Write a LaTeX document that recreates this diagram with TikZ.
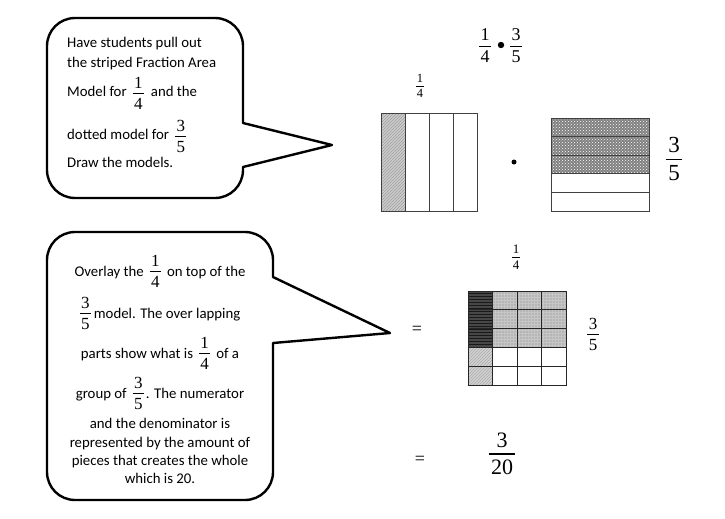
\documentclass[tikz,border=0pt]{standalone}
\usepackage{fontspec}
\setmainfont{Carlito}
\newfontfamily\tms{Liberation Serif}
\usetikzlibrary{patterns}
\newcommand\frc[3]{{\fontsize{#1}{#1}\selectfont\tms$\vcenter{\offinterlineskip\halign{\hfil\kern.08em##\kern.08em\hfil\cr #2\cr\noalign{\kern.26em\hrule height .05em\kern.26em}#3\cr}}$}}
\newcommand\ifr[2]{\kern6pt\raisebox{-2pt}{\frc{17}{#1}{#2}}\kern7pt}
\newcommand\jfr[2]{\kern6pt\frc{17}{#1}{#2}\kern6pt}
\begin{document}
\begin{tikzpicture}[x=1pt,y=-1pt,
  callout/.style={line width=2.4pt, line join=round},
  txt/.style={anchor=base west, inner sep=0pt, font=\fontsize{14.8}{17}\selectfont},
  ctxt/.style={anchor=base, inner sep=0pt, font=\fontsize{14.8}{17}\selectfont},
  fracnode/.style={inner sep=0pt},
  box/.style={draw=black!75, line width=0.8pt},
  gridln/.style={draw=black!85, line width=0.8pt}]
\useasboundingbox (0,0) rectangle (725,519);

% ---------- top callout ----------
\draw[callout] (243,123) [rounded corners=28pt] -- (243,18) -- (47,18) -- (47,198) -- (243,198) [sharp corners] -- (243,167) -- (332,145) -- cycle;
\node[txt] (t1) at (67,48) {Have students pull out};
\node[txt] (t2) at (67,67) {the striped Fraction Area};
\node[txt] (t3) at (67,96) {Model for\ifr{1}{4}and the};
\node[txt] (t4) at (67,139) {dotted model for\ifr{3}{5}};
\node[txt] (t5) at (67,167) {Draw the models.};

% ---------- top formula ----------
\node[fracnode] (fa) at (485,46) {\frc{18}{1}{4}};
\node[fracnode] (fb) at (516,46) {\frc{18}{3}{5}};
\fill (501,45) circle (3.2pt);

% ---------- left model (1/4 striped) ----------
\node[fracnode] (fq) at (420,86) {\frc{12.5}{1}{4}};
\fill[gray!40] (381,113) rectangle (405,211);
\fill[pattern=north east lines, pattern color=gray!75] (381,113) rectangle (405,211);
\draw[box] (381,113) rectangle (477,211);
\foreach \x in {405,429,453} \draw[box] (\x,113) -- (\x,211);

\fill (514,162) circle (2.5pt);

% ---------- right model (3/5 dotted) ----------
\fill[black!50] (551,118) rectangle (649,173.8);
\fill[pattern=crosshatch dots, pattern color=white] (551,118) rectangle (649,173.8);
\draw[box] (551,118) rectangle (649,211);
\foreach \y in {136.6,155.2,173.8,192.4} \draw[box] (551,\y) -- (649,\y);
\node[fracnode] (ft) at (674,159) {\frc{23}{3}{5}};

% ---------- bottom callout ----------
\draw[callout] (273,277) [rounded corners=28pt] -- (273,232) -- (47,232) -- (47,500) -- (273,500) [sharp corners] -- (273,343) -- (390,333) -- cycle;
\node[ctxt] (b1) at (160,276) {Overlay the\jfr{1}{4}on top of the};
\node[ctxt] (b2) at (160,318) {\frc{17}{3}{5}\kern3pt model. The over lapping};
\node[ctxt] (b3) at (160,358) {parts show what is\jfr{1}{4}of a};
\node[ctxt] (b4) at (160,398) {group of\jfr{3}{5}\kern-4pt. The numerator};
\node[ctxt] (b5) at (160,428) {and the denominator is};
\node[ctxt] (b6) at (160,447) {represented by the amount of};
\node[ctxt] (b7) at (160,465) {pieces that creates the whole};
\node[ctxt] (b8) at (160,483) {which is 20.};

% ---------- overlay grid ----------
\node[fracnode] (fg) at (516,257) {\frc{13}{1}{4}};
\node[fracnode] (fh) at (593,334) {\frc{17}{3}{5}};
\node[inner sep=0pt, font=\fontsize{18}{18}\selectfont\tms] (eq1) at (417,330) {=};
% top 3 rows medium gray
\fill[gray!58] (492.5,291) rectangle (566,347.4);
\fill[pattern=grid, pattern color=gray!45] (492.5,291) rectangle (566,347.4);
% dark overlap
\fill[black!72] (468,291) rectangle (492.5,347.4);
\fill[pattern=horizontal lines, pattern color=black!90] (468,291) rectangle (492.5,347.4);
% light hatched
\fill[gray!35] (468,347.4) rectangle (492.5,385);
\fill[pattern=north east lines, pattern color=gray!65] (468,347.4) rectangle (492.5,385);
\draw[gridln] (468,291) rectangle (566,385);
\foreach \x in {492.5,517,541.5} \draw[gridln] (\x,291) -- (\x,385);
\foreach \y in {309.8,328.6,347.4,366.2} \draw[gridln] (468,\y) -- (566,\y);

% ---------- result ----------
\node[inner sep=0pt, font=\fontsize{18}{18}\selectfont\tms] (eq2) at (420,460) {=};
\node[fracnode] (fr) at (502,454) {\frc{22}{3}{20}};
\end{tikzpicture}
\end{document}
